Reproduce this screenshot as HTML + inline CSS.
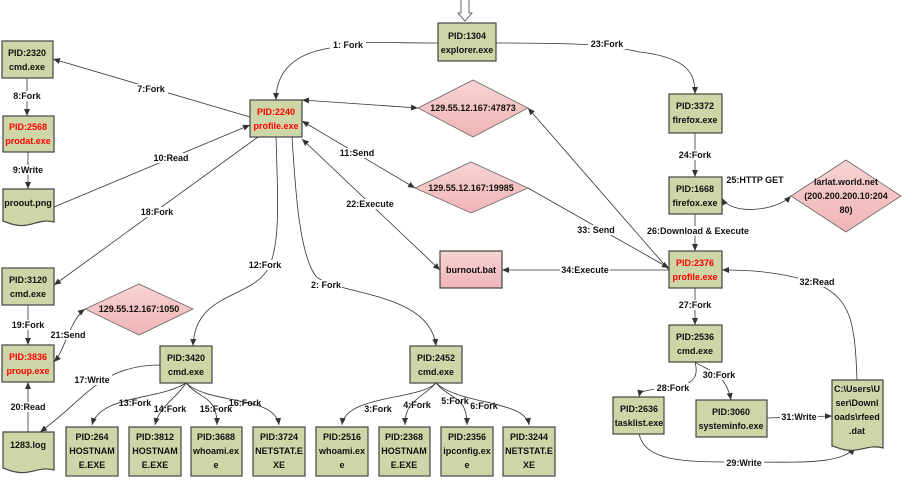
<!DOCTYPE html>
<html><head><meta charset="utf-8"><style>
body{margin:0;background:#fff;}
svg text{font-family:"Liberation Sans",sans-serif;font-weight:bold;font-size:9px;fill:#111;text-anchor:middle;}
.b{fill:#ced6a8;stroke:#444;stroke-width:1.2;}
.d{fill:url(#pk);stroke:#666;stroke-width:0.8;}
.e{fill:none;stroke:#333;stroke-width:0.8;}
.r{fill:#f00;}
.l{fill:#111;}
.lb{fill:#fff;stroke:none;}
</style></head><body>
<svg width="904" height="481" viewBox="0 0 904 481" xmlns="http://www.w3.org/2000/svg">
<defs>
<linearGradient id="pk" x1="0" y1="0" x2="0" y2="1"><stop offset="0" stop-color="#f8d3d3"/><stop offset="1" stop-color="#f0b4b6"/></linearGradient>
<linearGradient id="gb" x1="0" y1="0" x2="0" y2="1"><stop offset="0" stop-color="#d6ddb5"/><stop offset="1" stop-color="#c5cf9c"/></linearGradient>
<marker id="a" markerWidth="8" markerHeight="8" refX="7" refY="4" orient="auto" markerUnits="userSpaceOnUse"><path d="M0,1 L7,4 L0,7 Z" fill="#333"/></marker>
<marker id="s" markerWidth="8" markerHeight="8" refX="1" refY="4" orient="auto" markerUnits="userSpaceOnUse"><path d="M8,1 L1,4 L8,7 Z" fill="#333"/></marker>
</defs>
<!-- top hollow arrow -->
<path d="M461,0 V13 H458 L465,21 L472,13 H469 V0" fill="#fff" stroke="#444" stroke-width="0.8"/>

<!-- edges -->
<g class="e">
<path d="M438,43 C380,43 360,40 330,48 C285,55 276,80 276,100" marker-end="url(#a)"/>
<path d="M496,43 C600,43 610,46 640,52 C690,58 695,75 695,94" marker-end="url(#a)"/>
<path d="M250,117 L53,59" marker-end="url(#a)"/>
<path d="M27,78 V116" marker-end="url(#a)"/>
<path d="M28,152 V189" marker-end="url(#a)"/>
<path d="M54,207 L250,125" marker-end="url(#a)"/>
<path d="M302,100 L418,108" marker-start="url(#s)" marker-end="url(#a)"/>
<path d="M302,121 L415,188" marker-start="url(#s)" marker-end="url(#a)"/>
<path d="M302,139 L440,270" marker-start="url(#s)" marker-end="url(#a)"/>
<path d="M258,137 L54,285" marker-end="url(#a)"/>
<path d="M276,137 C278,200 280,240 270,265 C255,300 195,290 193,346" marker-end="url(#a)"/>
<path d="M292,137 C295,180 298,250 315,275 C330,295 430,290 436,346" marker-end="url(#a)"/>
<path d="M695,133 V177" marker-end="url(#a)"/>
<path d="M722,198 C730,215 775,212 791,196" marker-start="url(#s)" marker-end="url(#a)"/>
<path d="M695,214 V251" marker-end="url(#a)"/>
<path d="M669,270 L528,108" marker-end="url(#a)"/>
<path d="M669,268 L528,188" marker-start="url(#s)"/>
<path d="M669,270 L502,270" marker-end="url(#a)"/>
<path d="M695,288 V325" marker-end="url(#a)"/>
<path d="M857,380 C855,320 850,300 820,285 C780,270 740,270 722,270" marker-end="url(#a)"/>
<path d="M695,362 C700,380 690,385 670,388 C640,390 640,392 639,397" marker-end="url(#a)"/>
<path d="M695,362 C705,370 725,370 731,400" marker-end="url(#a)"/>
<path d="M767,418 L832,416" marker-end="url(#a)"/>
<path d="M639,434 C645,460 680,462 730,462 C800,462 840,465 855,448" marker-end="url(#a)"/>
<path d="M28,305 V345" marker-end="url(#a)"/>
<path d="M85,309 C70,320 65,350 54,362" marker-start="url(#s)" marker-end="url(#a)"/>
<path d="M28,432 V382" marker-end="url(#a)"/>
<path d="M160,365 C100,365 85,400 40,432" marker-end="url(#a)"/>
<g>
<path d="M186,383 C160,400 100,395 92,425" marker-end="url(#a)"/>
<path d="M186,383 C175,400 160,405 155,425" marker-end="url(#a)"/>
<path d="M186,383 C200,400 217,395 217,425" marker-end="url(#a)"/>
<path d="M186,383 C210,405 275,395 279,425" marker-end="url(#a)"/>
<path d="M436,383 C420,400 345,395 342,425" marker-end="url(#a)"/>
<path d="M436,383 C420,400 405,400 405,425" marker-end="url(#a)"/>
<path d="M436,383 C450,400 467,395 467,425" marker-end="url(#a)"/>
<path d="M436,383 C460,405 525,400 529,425" marker-end="url(#a)"/>
</g>
</g>

<!-- labels -->
<g>
<rect class="lb" x="330" y="40" width="36" height="10"/><text x="348" y="48">1: Fork</text>
<rect class="lb" x="588" y="39" width="38" height="10"/><text x="607" y="47">23:Fork</text>
<rect class="lb" x="134" y="84" width="34" height="10"/><text x="151" y="92">7:Fork</text>
<rect class="lb" x="10" y="91" width="34" height="10"/><text x="27" y="99">8:Fork</text>
<rect class="lb" x="10" y="165" width="36" height="10"/><text x="28" y="173">9:Write</text>
<rect class="lb" x="152" y="153" width="38" height="10"/><text x="171" y="161">10:Read</text>
<rect class="lb" x="338" y="148" width="38" height="10"/><text x="357" y="156">11:Send</text>
<rect class="lb" x="138" y="207" width="38" height="10"/><text x="157" y="215">18:Fork</text>
<rect class="lb" x="345" y="199" width="50" height="10"/><text x="370" y="207">22:Execute</text>
<rect class="lb" x="676" y="150" width="38" height="10"/><text x="695" y="158">24:Fork</text>
<rect class="lb" x="728" y="175" width="54" height="10"/><text x="755" y="183">25:HTTP GET</text>
<rect class="lb" x="578" y="225" width="36" height="10"/><text x="596" y="233">33: Send</text>
<rect class="lb" x="642" y="226" width="112" height="10"/><text x="698" y="234">26:Download &amp; Execute</text>
<rect class="lb" x="560" y="265" width="50" height="10"/><text x="585" y="273">34:Execute</text>
<rect class="lb" x="798" y="277" width="38" height="10"/><text x="817" y="285">32:Read</text>
<rect class="lb" x="676" y="300" width="38" height="10"/><text x="695" y="308">27:Fork</text>
<rect class="lb" x="700" y="370" width="38" height="10"/><text x="719" y="378">30:Fork</text>
<rect class="lb" x="654" y="383" width="38" height="10"/><text x="673" y="391">28:Fork</text>
<rect class="lb" x="780" y="412" width="38" height="10"/><text x="799" y="420">31:Write</text>
<rect class="lb" x="724" y="458" width="40" height="10"/><text x="744" y="466">29:Write</text>
<rect class="lb" x="248" y="260" width="36" height="10"/><text x="265" y="268">12:Fork</text>
<rect class="lb" x="310" y="280" width="32" height="10"/><text x="326" y="288">2: Fork</text>
<rect class="lb" x="8" y="320" width="38" height="10"/><text x="28" y="328">19:Fork</text>
<rect class="lb" x="50" y="330" width="36" height="10"/><text x="68" y="338">21:Send</text>
<rect class="lb" x="8" y="402" width="38" height="10"/><text x="28" y="410">20:Read</text>
<rect class="lb" x="72" y="375" width="40" height="10"/><text x="92" y="383">17:Write</text>
<text x="135" y="406">13:Fork</text><text x="170" y="412">14:Fork</text><text x="216" y="412">15:Fork</text><text x="245" y="406">16:Fork</text>
<text x="378" y="412">3:Fork</text><text x="417" y="408">4:Fork</text><text x="455" y="404">5:Fork</text><text x="484" y="409">6:Fork</text>
</g>

<!-- boxes -->
<g>
<rect class="b" x="438" y="23" width="58" height="38"/><text x="467" y="39">PID:1304</text><text x="467" y="53">explorer.exe</text>
<rect class="b" x="2" y="41" width="51" height="37"/><text x="27" y="56">PID:2320</text><text x="27" y="70">cmd.exe</text>
<rect class="b" x="3" y="116" width="51" height="36"/><text class="r" x="28" y="130">PID:2568</text><text class="r" x="28" y="144">prodat.exe</text>
<path class="b" d="M3,189 H54 V222 C40,218 30,228 16,225 C10,224 6,222 3,221 Z"/><text x="28" y="206">proout.png</text>
<rect class="b" x="250" y="100" width="52" height="37"/><text class="r" x="276" y="115">PID:2240</text><text class="r" x="276" y="129">profile.exe</text>
<rect class="b" x="669" y="94" width="53" height="39"/><text x="695" y="109">PID:3372</text><text x="695" y="123">firefox.exe</text>
<rect class="b" x="669" y="177" width="53" height="37"/><text x="695" y="192">PID:1668</text><text x="695" y="206">firefox.exe</text>
<rect class="b" x="669" y="251" width="53" height="37"/><text class="r" x="695" y="266">PID:2376</text><text class="r" x="695" y="280">profile.exe</text>
<rect x="440" y="251" width="62" height="37" fill="url(#pk)" stroke="#444" stroke-width="1.2"/><text x="471" y="273">burnout.bat</text>
<rect class="b" x="2" y="268" width="52" height="37"/><text x="28" y="283">PID:3120</text><text x="28" y="297">cmd.exe</text>
<rect class="b" x="2" y="345" width="52" height="37"/><text class="r" x="28" y="360">PID:3836</text><text class="r" x="28" y="374">proup.exe</text>
<path class="b" d="M3,432 H54 V470 C40,466 30,475 16,472 C10,471 6,469 3,468 Z"/><text x="28" y="448">1283.log</text>
<rect class="b" x="160" y="346" width="52" height="37"/><text x="186" y="361">PID:3420</text><text x="186" y="375">cmd.exe</text>
<rect class="b" x="410" y="346" width="52" height="37"/><text x="436" y="361">PID:2452</text><text x="436" y="375">cmd.exe</text>
<rect class="b" x="669" y="325" width="53" height="37"/><text x="695" y="340">PID:2536</text><text x="695" y="354">cmd.exe</text>
<rect class="b" x="613" y="397" width="51" height="37"/><text x="639" y="412">PID:2636</text><text x="639" y="426">tasklist.exe</text>
<rect class="b" x="696" y="400" width="71" height="37"/><text x="731" y="415">PID:3060</text><text x="731" y="429">systeminfo.exe</text>
<path class="b" d="M832,380 H883 V448 C870,444 860,452 846,450 C840,449 836,447 832,446 Z"/>
<text x="857" y="392">C:\Users\U</text><text x="857" y="406">ser\Downl</text><text x="857" y="420">oads\rfeed</text><text x="857" y="434">.dat</text>
<g>
<rect class="b" x="66" y="427" width="52" height="49"/><text x="92" y="440">PID:264</text><text x="92" y="454">HOSTNAM</text><text x="92" y="468">E.EXE</text>
<rect class="b" x="129" y="427" width="52" height="49"/><text x="155" y="440">PID:3812</text><text x="155" y="454">HOSTNAM</text><text x="155" y="468">E.EXE</text>
<rect class="b" x="191" y="427" width="51" height="49"/><text x="216" y="440">PID:3688</text><text x="216" y="454">whoami.ex</text><text x="216" y="468">e</text>
<rect class="b" x="253" y="427" width="52" height="49"/><text x="279" y="440">PID:3724</text><text x="279" y="454">NETSTAT.E</text><text x="279" y="468">XE</text>
<rect class="b" x="316" y="427" width="52" height="49"/><text x="342" y="440">PID:2516</text><text x="342" y="454">whoami.ex</text><text x="342" y="468">e</text>
<rect class="b" x="379" y="427" width="51" height="49"/><text x="404" y="440">PID:2368</text><text x="404" y="454">HOSTNAM</text><text x="404" y="468">E.EXE</text>
<rect class="b" x="441" y="427" width="52" height="49"/><text x="467" y="440">PID:2356</text><text x="467" y="454">ipconfig.ex</text><text x="467" y="468">e</text>
<rect class="b" x="503" y="427" width="52" height="49"/><text x="529" y="440">PID:3244</text><text x="529" y="454">NETSTAT.E</text><text x="529" y="468">XE</text>
</g>
</g>

<!-- diamonds -->
<polygon class="d" points="418,108 473,80 528,108 473,137"/><text x="473" y="111">129.55.12.167:47873</text>
<polygon class="d" points="415,188 471,162 528,188 471,213"/><text x="471" y="191">129.55.12.167:19985</text>
<polygon class="d" points="791,196 846,160 901,196 846,232"/><text x="846" y="185">larlat.world.net</text><text x="846" y="199">(200.200.200.10:204</text><text x="846" y="213">80)</text>
<polygon class="d" points="85,309 139,284 193,309 139,335"/><text x="139" y="312">129.55.12.167:1050</text>
</svg>
</body></html>
